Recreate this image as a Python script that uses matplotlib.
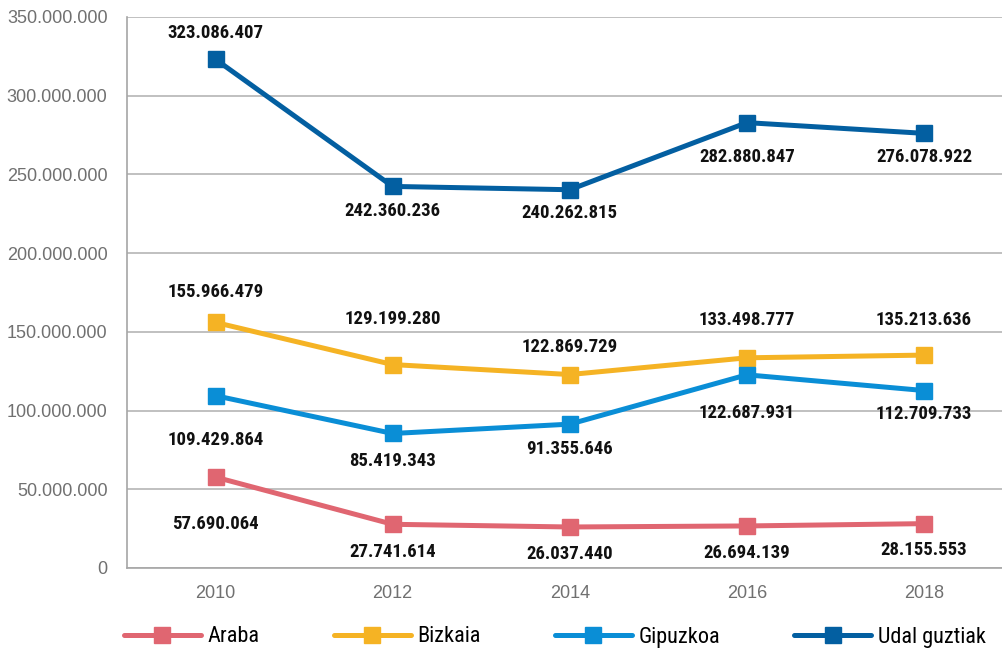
import matplotlib
matplotlib.use('Agg')
import matplotlib.pyplot as plt
from matplotlib import font_manager as fm
from matplotlib.ticker import FuncFormatter

# Data
years = ['2010', '2012', '2014', '2016', '2018']
araba = [57690064, 27741614, 26037440, 26694139, 28155553]
bizkaia = [155966479, 129199280, 122869729, 133498777, 135213636]
gipuzkoa = [109429864, 85419343, 91355646, 122687931, 112709733]
udal = [323086407, 242360236, 240262815, 282880847, 276078922]

names = ['Araba', 'Bizkaia', 'Gipuzkoa', 'Udal guztiak']
colors = ['#E06671', '#F5B324', '#0A8ED6', '#035FA1']

# label offsets in pixels (negative = below the marker)
offsets = [
    [-47, -28, -27, -27, -26],
    [30, 46, 28, 38, 35],
    [-44, -28, -25, -38, -23],
    [26, -25, -23, -34, -24],
]

# pick a narrow font that has a bold face
fonts = {}
for f in fm.fontManager.ttflist:
    fonts.setdefault(f.name, set()).add(f.weight)
def is_bold(w):
    return w in ('bold', 'heavy', 'black') or (isinstance(w, int) and w >= 600)
narrow_fam = 'Liberation Sans'
for cand in ['Liberation Sans Narrow', 'Roboto Condensed', 'Open Sans Condensed',
             'DejaVu Sans Condensed', 'Noto Sans Condensed']:
    if cand in fonts and any(is_bold(w) for w in fonts[cand]):
        narrow_fam = cand
        break
else:
    for n, ws in fonts.items():
        if ('Narrow' in n or 'Condensed' in n) and any(is_bold(w) for w in ws):
            narrow_fam = n
            break
narrow = [narrow_fam, 'DejaVu Sans']
regular = ['Liberation Sans', 'DejaVu Sans']

def fmt(v):
    return f'{int(v):,}'.replace(',', '.')

fig = plt.figure(figsize=(10.03, 6.5), dpi=100)
ax = fig.add_axes([0.1266, 0.1262, 0.8829, 0.8477])

x = list(range(len(years)))
series = [araba, bizkaia, gipuzkoa, udal]
handles = []
for s, name, c, offs in zip(series, names, colors, offsets):
    h, = ax.plot(x, s, color=c, lw=3.6, marker='s', ms=11, label=name,
                 solid_capstyle='round')
    handles.append(h)
    for xi, v, o in zip(x, s, offs):
        ax.annotate(fmt(v), (xi, v), xytext=(0, o), textcoords='offset pixels',
                    ha='center', va='center', fontsize=13.5, fontweight='bold',
                    family=narrow, color='#111111')

ax.set_xlim(-0.5, len(years) - 0.5)
ax.set_ylim(0, 350000000)
ax.set_yticks(range(0, 350000001, 50000000))
ax.yaxis.set_major_formatter(FuncFormatter(lambda v, p: fmt(v)))
ax.set_xticks(x)
ax.set_xticklabels(years)
ax.tick_params(length=0, colors='#707070', labelsize=13)
ax.tick_params(axis='x', pad=12)
ax.tick_params(axis='y', pad=14)
for lab in ax.get_xticklabels() + ax.get_yticklabels():
    lab.set_family(regular)

ax.grid(axis='y', color='#B5B5B5', lw=1.2)
ax.set_axisbelow(True)
for sp in ['top', 'right']:
    ax.spines[sp].set_visible(False)
for sp in ['left', 'bottom']:
    ax.spines[sp].set_color('#A6A6A6')
    ax.spines[sp].set_linewidth(1.2)

fig.legend(handles=handles, loc='center', bbox_to_anchor=(0.5533, 0.02),
           ncol=4, frameon=False, handlelength=3.45, handletextpad=0.3,
           columnspacing=3.35, borderpad=0.2,
           prop={'family': narrow, 'size': 16})

fig.savefig('out.png', dpi=100)
